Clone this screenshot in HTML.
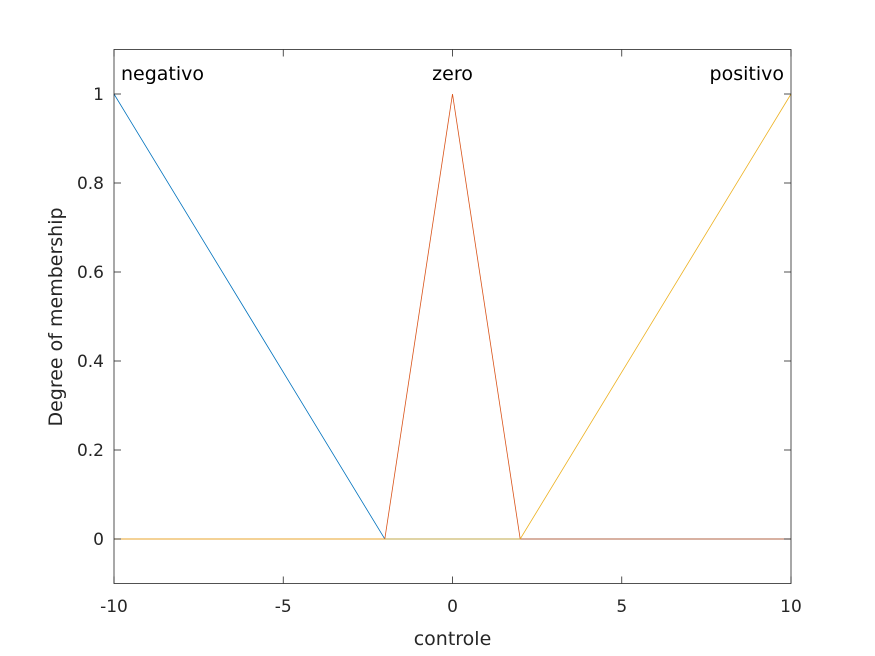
<!DOCTYPE html>
<html><head><meta charset="utf-8"><style>
html,body{margin:0;padding:0;background:#fff;}
svg{display:block;font-family:"DejaVu Sans","Liberation Sans",sans-serif;}
</style></head><body>
<svg id="chart" width="875" height="656" viewBox="0 0 875 656">
<rect width="875" height="656" fill="#fff"/>
<g id="plot"></g>
</svg>
<script>
const xTicks = [-10, -5, 0, 5, 10];
const yTicks = [0, 0.2, 0.4, 0.6, 0.8, 1];
const yTickLabels = ["0", "0.2", "0.4", "0.6", "0.8", "1"];
const negX = [-10, -2, 10];
const negY = [1, 0, 0];
const zeroX = [-10, -2, 0, 2, 10];
const zeroY = [0, 0, 1, 0, 0];
const posX = [-10, 2, 10];
const posY = [0, 0, 1];
const mfNames = ["negativo", "zero", "positivo"];
const mfPeakX = [-10, 0, 10];

const L=114, R=791, T=49.5, B=583.5;
const xMin=-10, xMax=10, yMin=-0.1, yMax=1.1;
const sx = v => L + (v - xMin) / (xMax - xMin) * (R - L);
const sy = v => B - (v - yMin) / (yMax - yMin) * (B - T);
const NS="http://www.w3.org/2000/svg";
const g=document.getElementById('plot');
function mk(tag, attrs){const e=document.createElementNS(NS,tag);for(const k in attrs)e.setAttribute(k,attrs[k]);g.appendChild(e);return e;}

const series=[[negX,negY,"#0072BD","line-negativo"],[zeroX,zeroY,"#D95319","line-zero"],[posX,posY,"#EDB120","line-positivo"]];
series.forEach(s=>{
  const p=mk('polyline',{points:s[0].map((x,i)=>sx(x)+','+sy(s[1][i])).join(' '),fill:'none',stroke:s[2],'stroke-width':0.8});
  
  
});

const box=mk('rect',{x:L,y:T,width:R-L,height:B-T,fill:'none',stroke:'#262626','stroke-width':0.8});



xTicks.forEach(v=>{
  const x=sx(v);
  const t1=mk('line',{x1:x,y1:B,x2:x,y2:B-7,stroke:'#262626','stroke-width':0.8});
  
  
  const t2=mk('line',{x1:x,y1:T,x2:x,y2:T+7,stroke:'#262626','stroke-width':0.8});
  
  
  const lb=mk('text',{x:x,y:612,'text-anchor':'middle','font-size':17,fill:'#262626'});
  lb.textContent=String(v);
  
  
});
yTicks.forEach((v,i)=>{
  const y=sy(v);
  const t1=mk('line',{x1:L,y1:y,x2:L+7,y2:y,stroke:'#262626','stroke-width':0.8});
  
  
  const t2=mk('line',{x1:R,y1:y,x2:R-7,y2:y,stroke:'#262626','stroke-width':0.8});
  
  
  const lb=mk('text',{x:104,y:y+6,'text-anchor':'end','font-size':17,fill:'#262626'});
  lb.textContent=yTickLabels[i];
  
  
});
mfNames.forEach((n,i)=>{
  const px=sx(mfPeakX[i]);
  const anchor = i===0?'start':(i===2?'end':'middle');
  const x = i===0?px+7:(i===2?px-7:px);
  const lb=mk('text',{x:x,y:80,'text-anchor':anchor,'font-size':19,fill:'#000'});
  lb.textContent=n;
  
  
});
const xt=mk('text',{x:(L+R)/2,y:645,'text-anchor':'middle','font-size':19,fill:'#262626'});
xt.textContent='controle';


const yt=mk('text',{x:0,y:0,'text-anchor':'middle','font-size':19,fill:'#262626',transform:'translate(62,317) rotate(-90)'});
yt.textContent='Degree of membership';


</script>
</body></html>
